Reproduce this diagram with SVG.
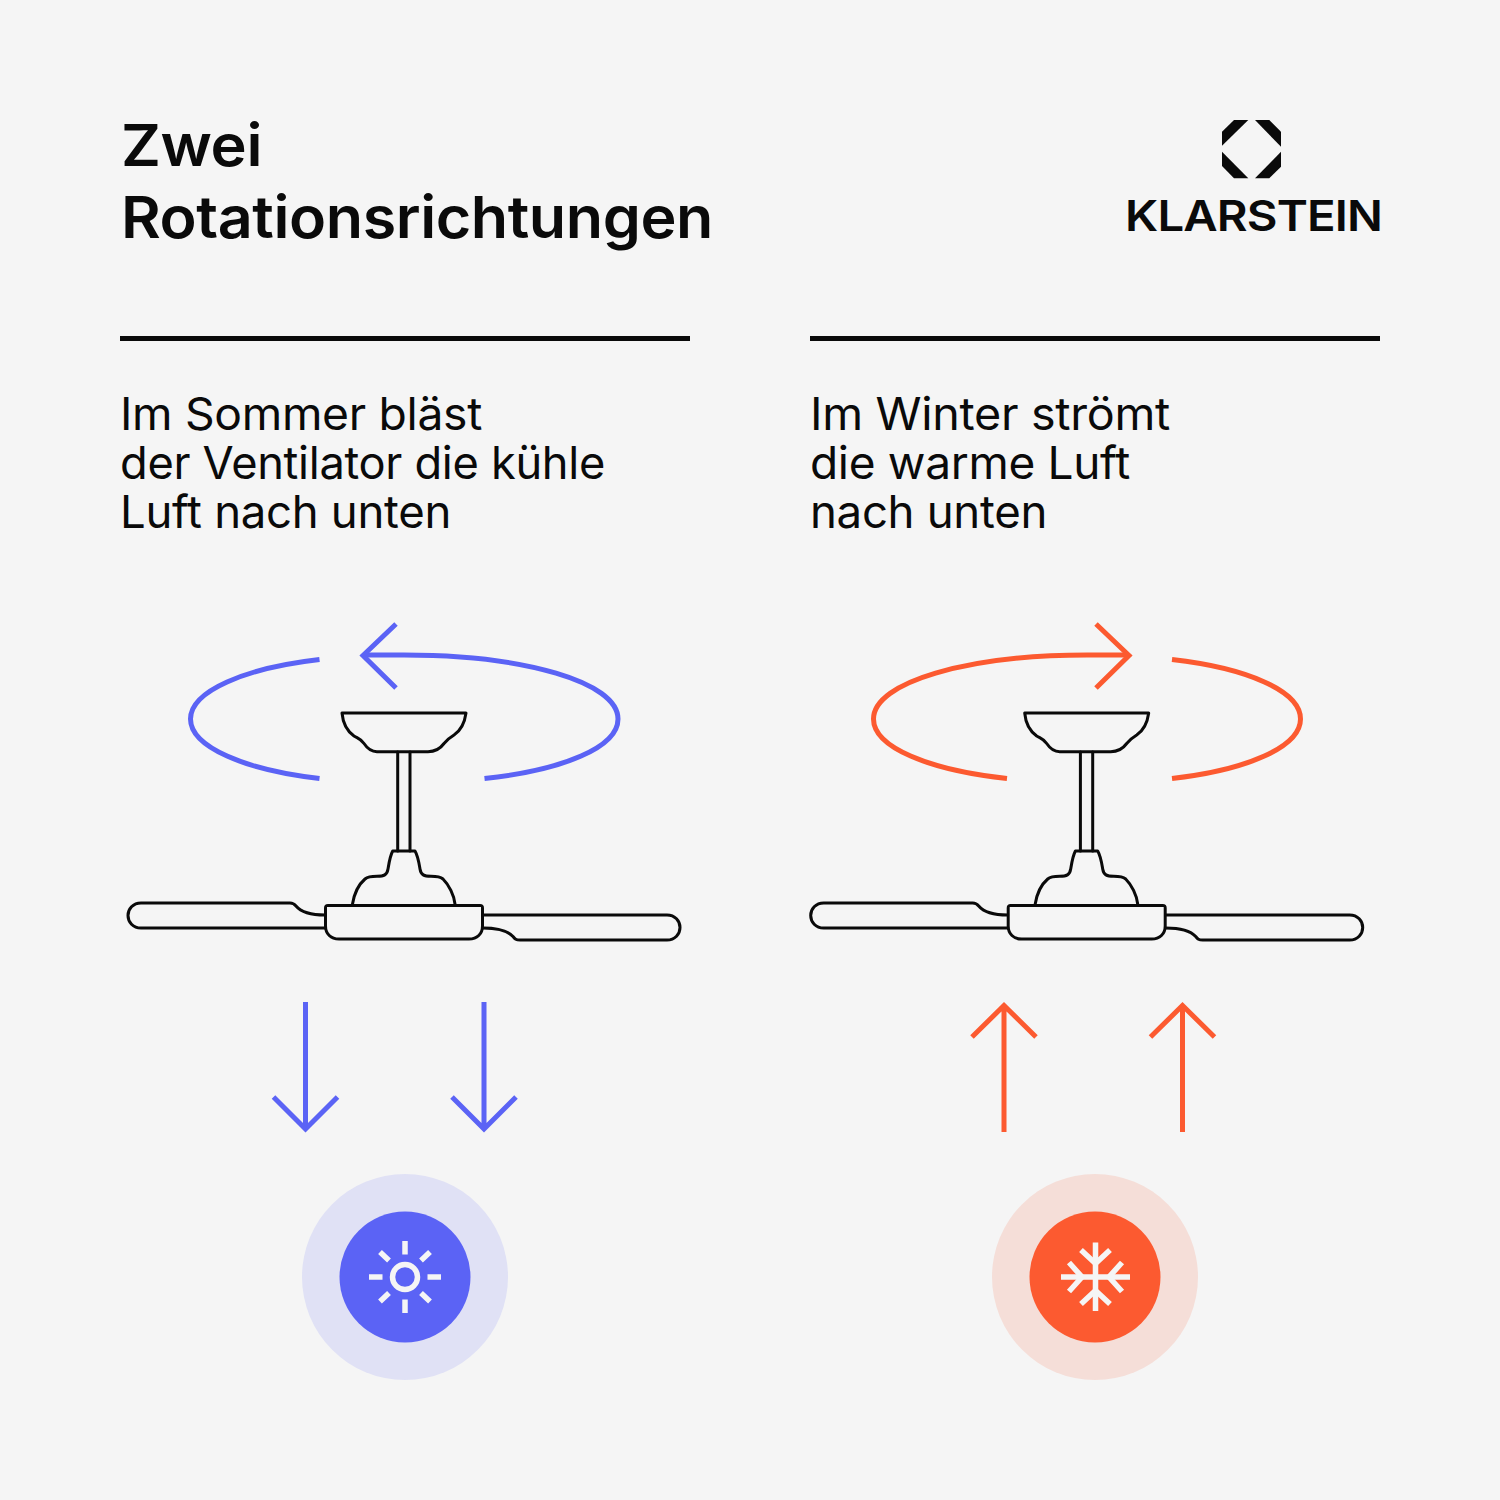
<svg xmlns="http://www.w3.org/2000/svg" width="1500" height="1500" viewBox="0 0 1500 1500">
<style>
text{font-family:Inter,"Liberation Sans",sans-serif;fill:#0a0a0a}
.title{font-size:58px;font-weight:600;letter-spacing:-0.4px}
.body{font-size:45px;font-weight:400;letter-spacing:-0.3px}
.brand{font-size:43px;font-weight:600;letter-spacing:-0.8px}
.fan{fill:none;stroke:#0a0a0a;stroke-width:3;stroke-linejoin:round;stroke-linecap:round}
.blue{fill:none;stroke:#5b63f5;stroke-width:5}
.orange{fill:none;stroke:#fc5a30;stroke-width:5}
.glyph{fill:none;stroke:#f5f5f5}
</style>
<defs>
<g id="fan" class="fan">
<path d="M342 713H466C464.500 724 460 731 454 735C449 738 447 740 444 743.500C440 749 435 751.700 428 751.700H377C371 751.700 367 748 364 743.500C361 739 358 738.500 354 736C347 731 343 724 342 713Z"/>
<path d="M397.700 752V851M410 752V851"/>
<path d="M352.500 904C354 895 358 885 365 879C368 876.500 371 876.300 377 876.300C384 876.300 387 875 388 869C389 863 390 856 392.700 851H415C418 856 419 863 420 869C421 875 424 876.300 431 876.300C437 876.300 440 876.500 443 879C449 885 454 895 455 904"/>
<path d="M328 905.500H480C482 905.500 482.500 906 482.500 908V926C482.500 934 477 939 469 939H339C331 939 325.500 934 325.500 926V908C325.500 906 326 905.500 328 905.500Z"/>
<path d="M325 915C310 915 301 912 296 906C294 903.500 293 903 290 903H141C133 903 128 909 128 915.500C128 922 133 928 141 928H325"/>
<path d="M483 915H667C675 915 680 921 680 927.500C680 934 675 940 667 940H520C516 940 515 939 513 936.500C508 931 500 928 483 928"/>
</g>
</defs>
<rect id="background" width="1500" height="1500" fill="#f5f5f5"/>
<g id="heading">
<text class="title" x="121" y="166" textLength="141" lengthAdjust="spacingAndGlyphs">Zwei</text>
<text class="title" x="121" y="238" textLength="592" lengthAdjust="spacingAndGlyphs">Rotationsrichtungen</text>
</g>
<g id="logo">
<g fill="#0a0a0a">
<polygon points="1234,120 1248.300,120 1222,145.700 1222,131.700"/>
<polygon points="1255,120 1269.300,120 1281,131.700 1281,146.700"/>
<polygon points="1222,151.700 1248.300,178.300 1234,178.300 1222,166"/>
<polygon points="1281,151.700 1281,166.700 1269.300,178.300 1255,178.300"/>
</g>
<text class="brand" x="1125" y="231" textLength="257" lengthAdjust="spacingAndGlyphs">KLARSTEIN</text>
</g>
<g id="summer-text">
<rect x="120" y="336" width="570" height="5" fill="#0a0a0a"/>
<text class="body" x="120" y="430" textLength="362" lengthAdjust="spacingAndGlyphs">Im Sommer bläst</text>
<text class="body" x="120" y="479" textLength="485" lengthAdjust="spacingAndGlyphs">der Ventilator die kühle</text>
<text class="body" x="120" y="528" textLength="331" lengthAdjust="spacingAndGlyphs">Luft nach unten</text>
</g>
<g id="winter-text">
<rect x="810" y="336" width="570" height="5" fill="#0a0a0a"/>
<text class="body" x="810" y="430" textLength="360" lengthAdjust="spacingAndGlyphs">Im Winter strömt</text>
<text class="body" x="810" y="479" textLength="320" lengthAdjust="spacingAndGlyphs">die warme Luft</text>
<text class="body" x="810" y="528" textLength="237" lengthAdjust="spacingAndGlyphs">nach unten</text>
</g>
<g id="summer-fan"><use href="#fan"/></g>
<g id="winter-fan"><use href="#fan" x="682.700"/></g>
<g id="connectors">
<g id="summer-arrows" class="blue">
<path d="M319.500 659.500C245 668 190.500 691 190.500 719C190.500 747 245 770 319.500 778.500"/>
<path d="M484.500 778.500C564 770 618 747 618 719C618 682 524 655 404 655H364"/>
<path d="M396 624L363 655.500L396 688"/>
<path d="M305.500 1002V1129M273.500 1097L305.500 1129L337.500 1097"/>
<path d="M484 1002V1129M452 1097L484 1129L516 1097"/>
</g>
<g id="winter-arrows" class="orange">
<path d="M1007 778.500C928 770 873.500 747 873.500 719C873.500 682 968 655 1087 655H1128"/>
<path d="M1096 624L1129 655.500L1096 688"/>
<path d="M1172 659.500C1247 668 1300.500 691 1300.500 719C1300.500 747 1247 770 1172 778.500"/>
<path d="M1004 1132V1006M972 1037L1004 1005.500L1036 1037"/>
<path d="M1182.500 1132V1006M1150.500 1037L1182.500 1005.500L1214.500 1037"/>
</g>
</g>
<g id="sun-badge">
<circle cx="405" cy="1277" r="103" fill="#e0e1f5"/>
<circle cx="405" cy="1277" r="65.500" fill="#5b63f5"/>
<g class="glyph" stroke-width="5.500">
<circle cx="405" cy="1277" r="12.500"/>
<path d="M405 1241V1254.500M405 1299.500V1313M369 1277H382.500M427.500 1277H441"/>
<path d="M380 1252L389 1260.500M430 1252L421 1260.500M380 1301.500L389 1293M430 1301.500L421 1293"/>
</g>
</g>
<g id="snow-badge">
<circle cx="1095" cy="1277" r="103" fill="#f5ded8"/>
<circle cx="1095" cy="1277" r="65.500" fill="#fc5a30"/>
<g class="glyph" stroke-width="5.500">
<path d="M1095.500 1242.500V1311M1061 1277H1130"/>
<path d="M1081 1250L1095.500 1263.500L1110 1250M1081 1304L1095.500 1290.500L1110 1304"/>
<path d="M1069 1262.500L1082 1277L1069 1291.500M1122 1262.500L1109 1277L1122 1291.500"/>
</g>
</g>
</svg>
